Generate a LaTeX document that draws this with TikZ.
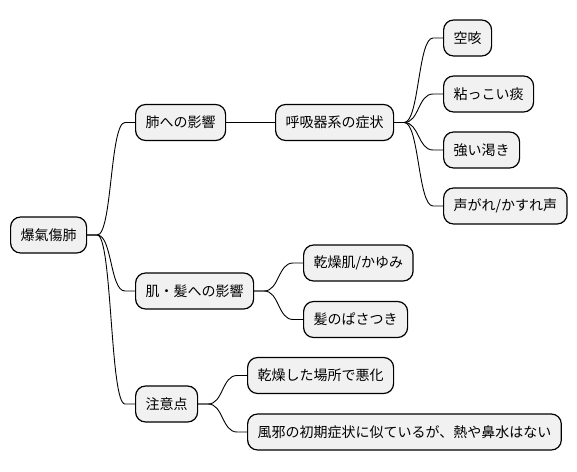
\documentclass[tikz,border=0pt]{standalone}
\usepackage{fontspec}
\newfontfamily\cjk{Noto Sans CJK JP}
\usetikzlibrary{calc}
\definecolor{boxfill}{HTML}{F1F1F1}
\tikzset{
  mmnode/.style={draw=black, line width=1.2pt, fill=boxfill, rounded corners=10pt,
    minimum height=36pt, inner xsep=10pt, inner ysep=0pt, anchor=west,
    font=\cjk\fontsize{14}{16}\selectfont, text=black},
  mmedge/.style={draw=black, line width=0.9pt}
}
\newcommand{\mmlink}[2]{%
  \coordinate (#1#2e) at ($(#2.west)+(-10pt,0)$);
  \begin{pgfonlayer}{background}
  \draw[mmedge] (#1.east) -- ++(10pt,0)
    .. controls +(15pt,0) and +(-15pt,0) .. (#1#2e) -- (#2.west);
  \end{pgfonlayer}}
\pgfdeclarelayer{background}
\pgfsetlayers{background,main}
\begin{document}
\begin{tikzpicture}[x=1pt,y=-1pt]
\useasboundingbox (0,0) rectangle (577,471);
\node[mmnode] (root) at (10,235) {爆氣傷肺};
\node[mmnode] (a) at (135,122.5) {肺への影響};
\node[mmnode] (a1) at (275,122.5) {呼吸器系の症状};
\node[mmnode] (a11) at (443,38) {空咳};
\node[mmnode] (a12) at (443,94) {粘っこい痰};
\node[mmnode] (a13) at (443,150) {強い渇き};
\node[mmnode] (a14) at (443,206) {声がれ/かすれ声};
\node[mmnode] (b) at (135,291) {肌・髪への影響};
\node[mmnode] (b1) at (303,263) {乾燥肌/かゆみ};
\node[mmnode] (b2) at (303,319.5) {髪のぱさつき};
\node[mmnode] (c) at (135,404) {注意点};
\node[mmnode] (c1) at (247,375.5) {乾燥した場所で悪化};
\node[mmnode] (c2) at (247,432) {風邪の初期症状に似ているが、熱や鼻水はない};
\mmlink{root}{a}
\mmlink{root}{b}
\mmlink{root}{c}
\draw[mmedge] (a.east) -- (a1.west);
\mmlink{a1}{a11}
\mmlink{a1}{a12}
\mmlink{a1}{a13}
\mmlink{a1}{a14}
\mmlink{b}{b1}
\mmlink{b}{b2}
\mmlink{c}{c1}
\mmlink{c}{c2}
\end{tikzpicture}
\end{document}
